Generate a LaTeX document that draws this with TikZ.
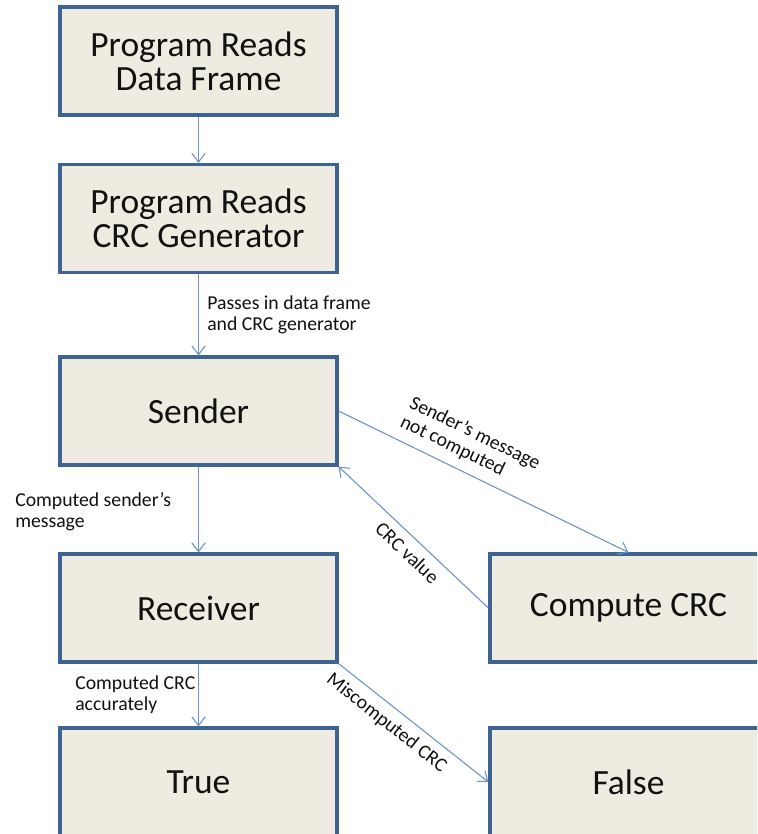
\documentclass[tikz,border=0pt]{standalone}
\usepackage{fontspec}
\setmainfont{Carlito}
\usetikzlibrary{arrows.meta}
\definecolor{boxfill}{HTML}{EEECE1}
\definecolor{boxline}{HTML}{3F6391}
\definecolor{arrowc}{HTML}{6A93C8}
\definecolor{txt}{HTML}{111111}
\tikzset{
  box/.style={draw=boxline, fill=boxfill, line width=2.4pt, rectangle, inner sep=0pt,
    minimum width=207.75pt, minimum height=81pt, align=center, text=txt,
    font=\fontsize{26.6pt}{25.5pt}\selectfont},
  conn/.style={draw=arrowc, line width=0.8pt, -{Straight Barb[length=6.5pt,width=10pt,line width=0.8pt]}},
  lbl/.style={font=\fontsize{14.8pt}{15.8pt}\selectfont, text=txt, align=left, inner sep=0pt}
}
\begin{document}
\begin{tikzpicture}[x=0.75pt,y=-0.75pt]
\path[use as bounding box] (0,0) rectangle (757,834);
\fill[white] (0,0) rectangle (757,834);
\clip (0,0) rectangle (757,834);
\node[box] (b1) at (198.5,61) {Program Reads\\Data Frame};
\node[box] (b2) at (198.5,218.5) {Program Reads\\CRC Generator};
\node[box] (snd) at (198.5,411) {Sender};
\node[box] (rcv) at (198.5,608) {Receiver};
\node[box] (tru) at (198.5,782) {True};
\node[box] (cc) at (628.5,608) {Compute CRC};
\node[box] (fls) at (628.5,782) {False};

\draw[conn] (b1) -- (b2);
\draw[conn] (b2) -- (snd);
\draw[conn] (snd) -- (rcv);
\draw[conn] (rcv) -- (tru);
\draw[conn] (snd.east) -- node[lbl, sloped, above=7pt, pos=0.41] {Sender’s message\\not computed} (cc.north);
\draw[conn] (cc.west) -- node[lbl, sloped, below=6pt, pos=0.47] {CRC value} (snd.south east);
\draw[conn] (rcv.south east) -- node[lbl, sloped, below=6pt, pos=0.39] {Miscomputed CRC} (fls.west);

\node[lbl, anchor=west] (l1) at (207,314.5) {Passes in data frame\\and CRC generator};
\node[lbl, anchor=west] (l2) at (15,511.5) {Computed sender’s\\message};
\node[lbl, anchor=west] (l3) at (75,695) {Computed CRC\\accurately};
\end{tikzpicture}
\end{document}
